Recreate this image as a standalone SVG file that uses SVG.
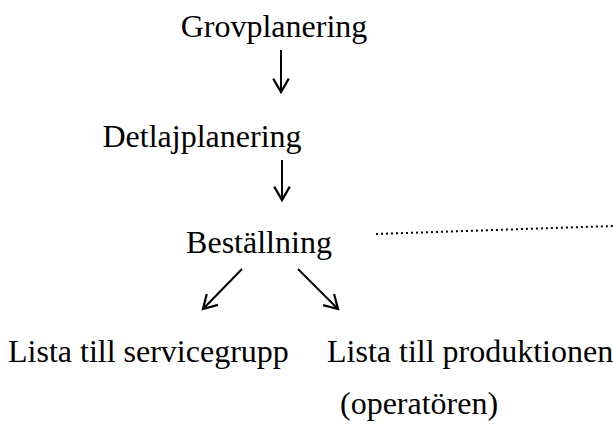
<svg xmlns="http://www.w3.org/2000/svg" width="613" height="424" viewBox="0 0 613 424">
  <style>
    .lbl { font-family: "Liberation Serif", "Times New Roman", serif; font-size: 32px; fill: #000; }
    .arrow { stroke: #000; stroke-width: 2; fill: none; marker-end: url(#head); }
    .dots { stroke: #000; stroke-width: 2; fill: none; stroke-dasharray: 2 3; }
  </style>
  <defs>
    <marker id="head" markerUnits="userSpaceOnUse" markerWidth="20" markerHeight="20" viewBox="-14 -9 16 18" refX="0" refY="0" orient="auto" overflow="visible">
      <path d="M-12,-7 L0,0 L-12,7" fill="none" stroke="#000" stroke-width="2" stroke-linejoin="miter"/>
    </marker>
  </defs>

  <rect width="613" height="424" fill="#fff"/>

  <g id="grovplanering">
    <text class="lbl" x="274" y="37" text-anchor="middle">Grovplanering</text>
  </g>
  <g id="detaljplanering">
    <text class="lbl" x="202" y="147" text-anchor="middle">Detlajplanering</text>
  </g>
  <g id="bestallning">
    <text class="lbl" x="259" y="253" text-anchor="middle">Beställning</text>
  </g>
  <g id="lista-service">
    <text class="lbl" x="8" y="362">Lista till servicegrupp</text>
  </g>
  <g id="lista-produktion">
    <text class="lbl" x="327" y="362">Lista till produktionen</text>
    <text class="lbl" x="340" y="414">(operatören)</text>
  </g>

  <g id="connectors">
    <line class="arrow" x1="281" y1="50" x2="281" y2="92"/>
    <line class="arrow" x1="282" y1="160" x2="282" y2="200"/>
    <line class="arrow" x1="242" y1="269" x2="203" y2="309"/>
    <line class="arrow" x1="298" y1="269" x2="338" y2="309"/>
    <line class="dots" x1="376" y1="234" x2="613" y2="226"/>
  </g>
</svg>
